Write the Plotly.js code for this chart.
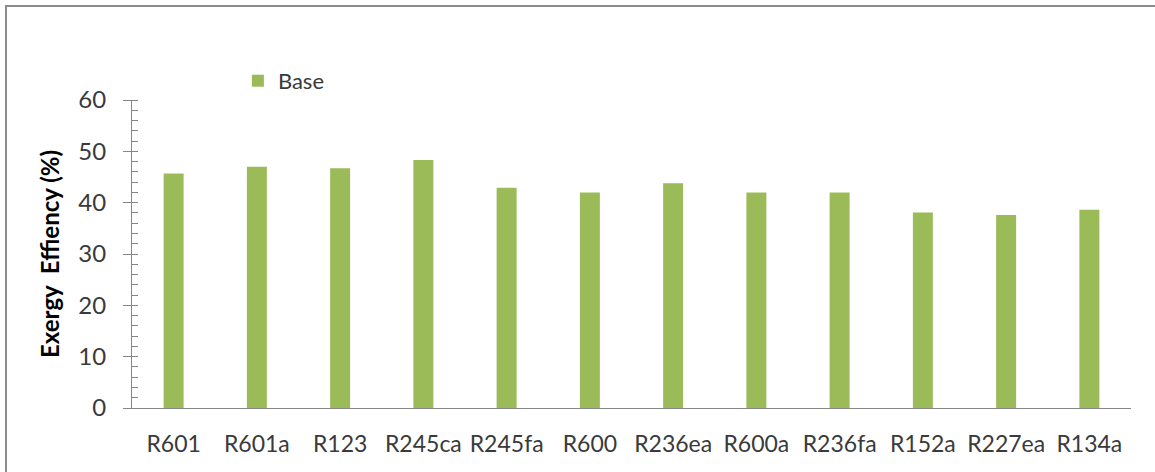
<!DOCTYPE html>
<html>
<head>
<meta charset="utf-8">
<script src="https://cdn.plot.ly/plotly-3.0.1.min.js"></script>
<style>
  html, body { margin: 0; padding: 0; background: #ffffff; }
  #wrap { position: relative; width: 1155px; height: 472px; overflow: hidden; }
  #frame { position: absolute; left: 5px; top: 5px; width: 1150px; height: 467px;
           border-top: 2px solid #8c8c8c; border-left: 2px solid #8c8c8c; box-sizing: border-box;
           pointer-events: none; }
  #chart { position: absolute; left: 0; top: 0; width: 1155px; height: 472px; }
</style>
</head>
<body>
<div id="wrap">
  <div id="chart"></div>
  <div id="frame"></div>
</div>
<script>
const categories = ["R601", "R601a", "R123", "R245ca", "R245fa", "R600", "R236ea", "R600a", "R236fa", "R152a", "R227ea", "R134a"];
const baseValues = [45.7, 47.0, 46.7, 48.3, 42.9, 42.0, 43.8, 42.0, 42.0, 38.1, 37.6, 38.6];
const seriesName = "Base";
const yTitle = "Exergy\u00a0 Effiency (%)";
const yTickVals = [0, 10, 20, 30, 40, 50, 60];

const axisColor = "#868686";
const textColor = "#3a3a3a";
const fontFamily = "Lato, 'Open Sans', sans-serif";

const traces = [{
  type: "bar",
  name: seriesName,
  x: categories,
  y: baseValues,
  marker: { color: "#9BBB59" },
  hoverinfo: "x+y"
}];

const layout = {
  width: 1155,
  height: 472,
  margin: { l: 132, r: 24, t: 100, b: 64, pad: 0 },
  paper_bgcolor: "rgba(0,0,0,0)",
  plot_bgcolor: "#ffffff",
  bargap: 0.76,
  font: { family: fontFamily, color: textColor },
  showlegend: true,
  legend: {
    x: 0.106, y: 1.062, xanchor: "left", yanchor: "middle",
    font: { family: fontFamily, size: 22, color: textColor },
    bgcolor: "rgba(0,0,0,0)"
  },
  xaxis: {
    type: "category",
    showline: true, linecolor: axisColor, linewidth: 1,
    ticks: "", showgrid: false, zeroline: false,
    tickfont: { family: fontFamily, size: 23, color: textColor },
    ticklabelstandoff: 15
  },
  yaxis: {
    range: [0, 60],
    tickvals: yTickVals,
    ticks: "outside", ticklen: 8, tickcolor: axisColor, tickwidth: 1,
    showline: true, linecolor: axisColor, linewidth: 1,
    showgrid: false, zeroline: false,
    minor: { ticks: "inside", dtick: 2, ticklen: 6, tickcolor: axisColor, tickwidth: 1, showgrid: false },
    tickfont: { family: fontFamily, size: 24, color: textColor },
    ticklabelstandoff: 12,
    title: { text: yTitle, font: { family: fontFamily, size: 24, weight: "bold", color: "#000000" }, standoff: 11 }
  },
  yaxis2: {
    overlaying: "y",
    range: [0, 60],
    tickvals: yTickVals,
    ticks: "inside", ticklen: 8, tickcolor: axisColor, tickwidth: 1,
    showticklabels: false, showline: false, showgrid: false, zeroline: false,
    side: "left"
  }
};

Plotly.newPlot("chart", traces, layout, { displayModeBar: false, staticPlot: true });
</script>
</body>
</html>
